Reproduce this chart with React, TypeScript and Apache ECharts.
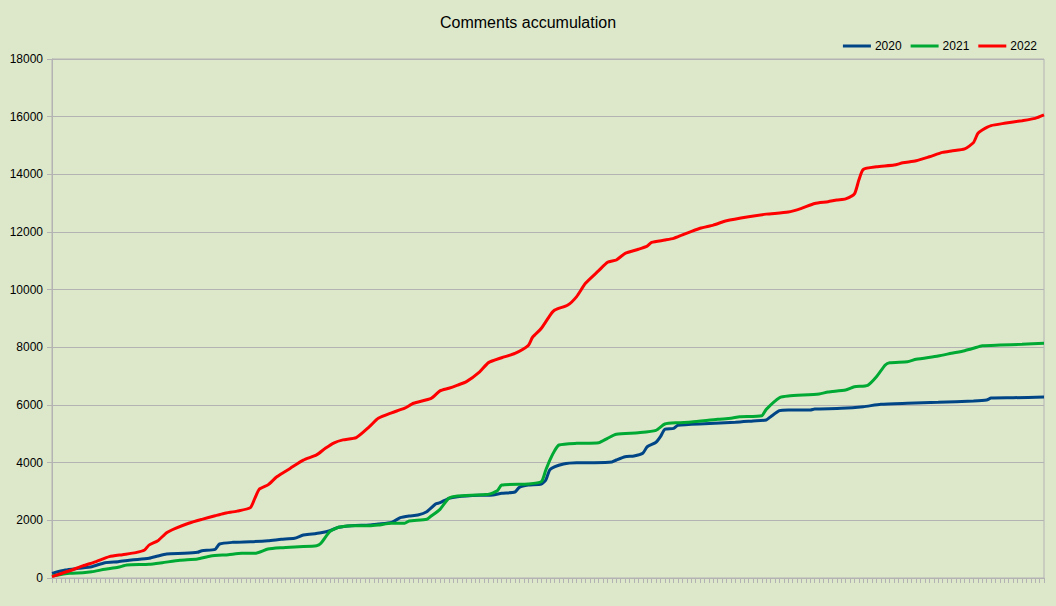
import React, { useEffect, useRef } from "react";
import * as echarts from "echarts";

const TITLE = "Comments accumulation";
const SERIES_NAMES = ["2020", "2021", "2022"];
const COLORS = ["#004586", "#00a933", "#ff0000"];
const DAY_COUNT = 226; // number of category slots along the x axis
const Y_MAX = 18000;
const Y_STEP = 2000;

// 2020
const days2020 = [0, 3, 6, 9, 12, 15, 18, 22, 24, 26, 30, 33, 34, 37, 38, 41, 45, 49, 52, 55, 57, 59, 61, 63, 65, 68, 72, 74, 77, 79, 81, 83, 85, 87, 88, 90, 92, 97, 100, 102, 105, 106, 108, 111, 112, 113, 116, 119, 123, 127, 128, 130, 132, 134, 135, 137, 138, 139, 141, 142, 148, 155, 159, 162, 163, 165, 167, 172, 173, 179, 184, 188, 194, 201, 209, 212, 213, 218, 225];
const values2020 = [160, 277, 336, 392, 531, 566, 624, 683, 763, 832, 855, 890, 947, 994, 1179, 1237, 1259, 1294, 1341, 1376, 1491, 1526, 1571, 1640, 1758, 1814, 1838, 1873, 1931, 2091, 2150, 2185, 2299, 2566, 2611, 2764, 2820, 2868, 2878, 2937, 2982, 3145, 3225, 3260, 3399, 3770, 3953, 3999, 4000, 4023, 4092, 4207, 4231, 4325, 4553, 4706, 4900, 5157, 5191, 5300, 5351, 5399, 5445, 5479, 5594, 5802, 5826, 5826, 5861, 5885, 5941, 6024, 6059, 6093, 6138, 6173, 6242, 6253, 6277];

// 2021
const days2021 = [0, 4, 7, 9, 12, 15, 17, 22, 25, 29, 33, 36, 40, 43, 46, 49, 52, 56, 60, 61, 63, 65, 68, 72, 74, 77, 80, 81, 85, 86, 88, 90, 92, 99, 101, 102, 108, 111, 112, 113, 114, 115, 119, 124, 126, 128, 133, 137, 139, 142, 145, 151, 154, 156, 161, 162, 165, 167, 174, 176, 180, 182, 185, 187, 189, 190, 194, 196, 201, 204, 207, 209, 211, 215, 220, 225];
const values2021 = [69, 163, 184, 218, 302, 371, 451, 475, 531, 614, 659, 763, 809, 855, 855, 1006, 1051, 1086, 1121, 1203, 1606, 1758, 1814, 1814, 1838, 1897, 1897, 1977, 2035, 2150, 2382, 2764, 2844, 2902, 3028, 3225, 3260, 3340, 3745, 4116, 4415, 4612, 4671, 4692, 4845, 4983, 5039, 5120, 5341, 5386, 5410, 5504, 5538, 5594, 5629, 5850, 6253, 6312, 6381, 6450, 6520, 6634, 6683, 6981, 7387, 7467, 7501, 7584, 7699, 7793, 7883, 7966, 8056, 8080, 8105, 8140];

// 2022
const days2022 = [0, 4, 7, 10, 13, 16, 19, 21, 22, 24, 26, 28, 31, 34, 37, 39, 42, 45, 46, 47, 49, 51, 54, 57, 60, 62, 64, 66, 69, 72, 74, 77, 80, 82, 86, 88, 90, 92, 94, 97, 99, 102, 105, 108, 109, 111, 113, 114, 117, 119, 121, 124, 126, 128, 130, 133, 135, 136, 139, 141, 143, 147, 150, 153, 158, 162, 167, 170, 173, 176, 178, 180, 182, 183, 184, 187, 191, 193, 196, 199, 202, 204, 207, 209, 210, 211, 213, 216, 220, 223, 225];
const values2022 = [50, 250, 420, 570, 740, 810, 880, 970, 1140, 1290, 1570, 1720, 1900, 2035, 2160, 2240, 2320, 2440, 2760, 3080, 3230, 3510, 3800, 4090, 4270, 4500, 4690, 4790, 4870, 5250, 5540, 5730, 5890, 6060, 6230, 6490, 6580, 6690, 6810, 7150, 7470, 7640, 7790, 8060, 8350, 8660, 9120, 9290, 9470, 9760, 10220, 10660, 10950, 11030, 11260, 11400, 11510, 11640, 11720, 11780, 11900, 12130, 12240, 12390, 12530, 12620, 12690, 12820, 12990, 13050, 13110, 13150, 13320, 13800, 14170, 14260, 14320, 14400, 14470, 14610, 14760, 14810, 14880, 15100, 15420, 15540, 15690, 15770, 15860, 15940, 16060];

const ALL_DAYS = [days2020, days2021, days2022];
const ALL_VALUES = [values2020, values2021, values2022];

const FONT = "'Liberation Sans', Arial, sans-serif";
const GRAY = "#b3b3b3";

export default function App() {
  const ref = useRef<HTMLDivElement>(null);

  useEffect(() => {
    if (!ref.current) return;
    const chart = echarts.init(ref.current, undefined, { renderer: "svg" });
    chart.setOption({
      animation: false,
      backgroundColor: "#dde8cb",
      textStyle: { fontFamily: FONT },
      title: {
        text: TITLE,
        left: "center",
        top: 9,
        textStyle: { fontFamily: FONT, fontSize: 16, fontWeight: "normal", color: "#000" },
      },
      legend: {
        data: SERIES_NAMES,
        right: 14,
        top: 35,
        icon: "rect",
        itemWidth: 28,
        itemHeight: 3,
        itemGap: 9,
        textStyle: { fontFamily: FONT, fontSize: 12, color: "#000", padding: [0, 0, 0, -1] },
      },
      grid: {
        left: 52,
        right: 12,
        top: 59,
        bottom: 28,
        show: true,
        borderColor: GRAY,
        borderWidth: 1,
        backgroundColor: "transparent",
      },
      xAxis: {
        type: "value",
        min: 0,
        max: DAY_COUNT - 1,
        interval: 1,
        axisLine: { show: true, lineStyle: { color: GRAY, width: 1 } },
        axisTick: { show: true, length: 5, lineStyle: { color: GRAY, width: 1 } },
        axisLabel: { show: false },
        splitLine: { show: false },
      },
      yAxis: {
        type: "value",
        min: 0,
        max: Y_MAX,
        interval: Y_STEP,
        axisLine: { show: true, lineStyle: { color: GRAY, width: 1 } },
        axisTick: { show: true, length: 5, lineStyle: { color: GRAY } },
        axisLabel: {
          fontFamily: FONT,
          fontSize: 12,
          color: "#000",
          margin: 9,
          formatter: (v: number) => String(v),
        },
        splitLine: { show: true, lineStyle: { color: GRAY, width: 1 } },
      },
      series: SERIES_NAMES.map((name, i) => ({
        name,
        type: "line",
        showSymbol: false,
        symbol: "none",
        smooth: 0.2,
        color: COLORS[i],
        lineStyle: { color: COLORS[i], width: 3 },
        data: ALL_DAYS[i].map((d, j) => [d, ALL_VALUES[i][j]]),
      })),
    });
    return () => chart.dispose();
  }, []);

  return (
    <div
      ref={ref}
      style={{ position: "fixed", left: 0, top: 0, width: 1056, height: 606 }}
    />
  );
}
